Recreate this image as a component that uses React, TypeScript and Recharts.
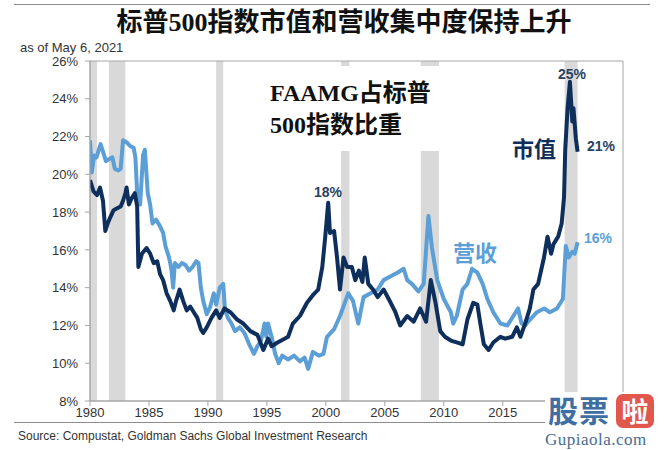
import React from 'react';
import { LineChart, Line, XAxis, YAxis, ReferenceArea } from 'recharts';

// FAAMG share of S&P 500: market cap (navy) and revenue (light blue), %
const capYears = [
  1980.0, 1980.3, 1980.6, 1980.85, 1981.1, 1981.3, 1981.5, 1981.7, 1982.0, 1982.3,
  1982.6, 1982.8, 1983.0, 1983.1, 1983.3, 1983.5, 1983.8, 1984.0, 1984.1, 1984.4,
  1984.8, 1985.1, 1985.4, 1985.7, 1985.95, 1986.2, 1986.5, 1986.8, 1987.1, 1987.3,
  1987.6, 1987.9, 1988.2, 1988.5, 1988.8, 1989.1, 1989.4, 1989.6, 1989.9, 1990.3,
  1990.7, 1991.0, 1991.4, 1991.9, 1992.5, 1993.0, 1993.6, 1994.2, 1994.7, 1995.1,
  1995.4, 1995.9, 1996.5, 1996.8, 1997.2, 1997.8, 1998.4, 1998.9, 1999.35, 1999.7,
  1999.95, 2000.2, 2000.35, 2000.7, 2000.95, 2001.2, 2001.5, 2001.8, 2002.2, 2002.5,
  2002.8, 2003.1, 2003.3, 2003.6, 2004.0, 2004.4, 2004.9, 2005.5, 2005.9, 2006.3,
  2006.9, 2007.45, 2008.0, 2008.5, 2008.9, 2009.3, 2009.7, 2010.1, 2010.6, 2011.1,
  2011.6, 2012.0, 2012.5, 2012.85, 2013.1, 2013.4, 2013.8, 2014.2, 2014.8, 2015.2,
  2015.8, 2016.2, 2016.5, 2016.9, 2017.3, 2017.6, 2018.0, 2018.5, 2018.8, 2019.1,
  2019.3, 2019.7, 2020.0, 2020.2, 2020.3, 2020.5, 2020.7, 2020.9, 2021.0, 2021.2,
  2021.35,
];
const capValues = [
  19.7, 19.1, 18.9, 19.3, 18.6, 17.0, 17.4, 17.7, 18.1, 18.2,
  18.3, 18.6, 19.0, 19.3, 18.4, 18.7, 19.0, 18.3, 15.1, 15.8,
  16.1, 15.8, 15.3, 15.4, 14.7, 14.4, 13.7, 13.3, 12.8, 13.3,
  13.9, 13.3, 12.8, 13.0, 12.7, 12.4, 11.8, 11.6, 11.9, 12.4,
  12.8, 12.4, 12.9, 12.7, 12.3, 12.1, 11.7, 11.5, 10.7, 11.3,
  10.9, 11.1, 11.3, 11.4, 12.1, 12.5, 13.2, 13.6, 13.9, 15.1,
  16.7, 18.5, 16.9, 17.0, 15.6, 13.9, 15.6, 15.1, 15.1, 14.4,
  14.9, 14.3, 15.6, 14.2, 13.9, 13.5, 13.9, 13.2, 12.7, 12.0,
  12.5, 12.2, 12.9, 12.2, 14.4, 13.2, 11.7, 11.4, 11.2, 11.1,
  11.0, 12.3, 13.2, 13.1, 12.1, 11.0, 10.7, 11.1, 11.4, 11.3,
  11.4, 11.9, 11.4, 12.1, 12.9, 13.9, 14.2, 15.6, 16.7, 15.8,
  16.3, 16.7, 17.4, 18.8, 21.3, 23.5, 24.9, 22.8, 23.5, 21.9,
  21.2,
];

const revYears = [
  1980.0, 1980.15, 1980.35, 1980.55, 1980.9, 1981.1, 1981.35, 1981.6, 1981.9, 1982.1,
  1982.4, 1982.6, 1982.8, 1983.1, 1983.4, 1983.7, 1983.85, 1984.0, 1984.25, 1984.5,
  1984.65, 1984.9, 1985.1, 1985.3, 1985.6, 1985.9, 1986.2, 1986.4, 1986.7, 1986.9,
  1987.05, 1987.2, 1987.5, 1987.8, 1988.1, 1988.4, 1988.7, 1989.0, 1989.2, 1989.4,
  1989.6, 1989.9, 1990.2, 1990.5, 1990.7, 1991.0, 1991.3, 1991.45, 1991.7, 1992.0,
  1992.3, 1992.7, 1993.1, 1993.5, 1993.9, 1994.2, 1994.5, 1994.8, 1994.95, 1995.1,
  1995.4, 1995.7, 1996.0, 1996.3, 1996.8, 1997.3, 1997.8, 1998.2, 1998.5, 1998.9,
  1999.4, 1999.8, 2000.1, 2000.7, 2001.2, 2001.9, 2002.3, 2002.75, 2003.2, 2003.8,
  2004.4, 2004.9, 2005.5, 2006.1, 2006.6, 2006.9, 2007.3, 2007.85, 2008.3, 2008.7,
  2009.0, 2009.45, 2010.0, 2010.6, 2010.8, 2011.1, 2011.6, 2012.0, 2012.4, 2012.85,
  2013.3, 2013.7, 2014.2, 2014.8, 2015.4, 2015.9, 2016.3, 2016.6, 2016.9, 2017.3,
  2017.9, 2018.5, 2019.0, 2019.6, 2020.1, 2020.35, 2020.6, 2020.9, 2021.1, 2021.35,
];
const revValues = [
  21.8, 20.1, 21.0, 20.9, 21.6, 21.2, 20.7, 20.8, 20.9, 20.3,
  20.2, 20.3, 21.8, 21.7, 21.5, 21.4, 20.9, 19.0, 18.4, 21.0,
  21.3, 19.0, 18.4, 17.4, 17.6, 17.3, 16.9, 16.2, 15.6, 15.0,
  14.0, 15.3, 15.1, 15.3, 15.2, 14.9, 15.1, 15.4, 15.3, 14.0,
  13.3, 12.6, 13.0, 13.7, 13.1, 14.0, 14.2, 12.8, 12.4, 12.1,
  11.7, 11.9, 11.6, 11.0, 10.5, 10.9, 11.2, 12.1, 11.4, 12.1,
  11.4, 10.5, 10.0, 10.4, 10.2, 10.4, 10.1, 10.3, 9.7, 10.6,
  10.4, 10.5, 11.4, 11.8, 12.5, 13.7, 13.3, 12.1, 13.5, 13.7,
  13.9, 14.4, 14.6, 14.8, 15.0, 14.4, 14.2, 13.8, 14.2, 17.8,
  16.1, 14.4, 13.4, 12.7, 12.1, 12.5, 13.9, 14.2, 15.0, 14.8,
  14.2, 13.4, 12.7, 12.1, 12.0, 12.5, 12.9, 12.1, 12.0, 12.3,
  12.7, 12.9, 12.7, 12.9, 13.4, 16.2, 15.6, 15.9, 15.8, 16.4,
];

const recessionStarts = [1980.0, 1981.6, 1990.7, 2001.3, 2008.05, 2020.25];
const recessionEnds = [1980.6, 1983.0, 1991.3, 2002.0, 2009.6, 2021.35];

const yearTicks = [1980, 1985, 1990, 1995, 2000, 2005, 2010, 2015];
const pctTicks = [8, 10, 12, 14, 16, 18, 20, 22, 24, 26];

const capData = capYears.map((year, i) => ({ year, value: capValues[i] }));
const revData = revYears.map((year, i) => ({ year, value: revValues[i] }));

const NAVY = '#0e2f5c';
const LIGHT = '#5b9fd6';
const AXIS = '#a6a6a6';
const SANS = '"Liberation Sans", Arial, sans-serif';
const SERIF_CJK = '"Liberation Serif", "Noto Sans CJK SC", serif';

const abs = (style: React.CSSProperties): React.CSSProperties => ({ position: 'absolute', whiteSpace: 'nowrap', ...style });

export default function App() {
  return (
    <div style={{ position: 'absolute', left: 0, top: 0, width: 664, height: 450, background: '#fff', overflow: 'hidden' }}>
      <div style={abs({ left: 14, top: 4, width: 636, height: 1, background: '#8c8c8c' })} />
      <div style={abs({ left: 0, width: 664, top: 8, textAlign: 'center', fontFamily: SERIF_CJK, fontWeight: 700, fontSize: 26, lineHeight: '30px', color: '#111', paddingLeft: 12 })}>
        标普500指数市值和营收集中度保持上升
      </div>
      <div style={abs({ left: 20, top: 40, fontFamily: SANS, fontSize: 13, color: '#333' })}>as of May 6, 2021</div>

      <LineChart width={664} height={450} data={capData} margin={{ top: 61, right: 41, bottom: 25, left: 30 }}>
        {recessionStarts.map((s, i) => (
          <ReferenceArea key={i} x1={s} x2={recessionEnds[i]} y1={8} y2={26} fill="#d9d9d9" fillOpacity={1} stroke="none" ifOverflow="hidden" />
        ))}
        <ReferenceArea x1={1980} x2={2025.2} y1={8} y2={26} fill="none" stroke={AXIS} strokeWidth={1} />
        <XAxis
          dataKey="year"
          type="number"
          domain={[1980, 2025.2]}
          ticks={yearTicks}
          allowDataOverflow
          height={24}
          stroke={AXIS}
          tickSize={5}
          tick={{ fill: '#333', fontSize: 13, fontFamily: SANS }}
        />
        <YAxis
          type="number"
          domain={[8, 26]}
          ticks={pctTicks}
          width={60}
          stroke={AXIS}
          tickSize={5}
          tickMargin={7}
          tickFormatter={(v: number) => `${v}%`}
          tick={{ fill: '#333', fontSize: 13, fontFamily: SANS }}
        />
        <Line data={revData} dataKey="value" type="linear" stroke={LIGHT} strokeWidth={4} dot={false} isAnimationActive={false} strokeLinejoin="round" />
        <Line data={capData} dataKey="value" type="linear" stroke={NAVY} strokeWidth={4} dot={false} isAnimationActive={false} strokeLinejoin="round" />
      </LineChart>

      <div style={abs({ left: 262, top: 66, width: 190, height: 85, background: '#fff' })} />
      <div style={abs({ left: 270, top: 77, fontFamily: SERIF_CJK, fontWeight: 700, fontSize: 24, lineHeight: '32px', color: '#111' })}>
        FAAMG占标普
        <br />
        500指数比重
      </div>

      <div style={abs({ left: 314, top: 184, fontFamily: SANS, fontWeight: 700, fontSize: 14, color: '#2a3f5f' })}>18%</div>
      <div style={abs({ left: 558, top: 66, fontFamily: SANS, fontWeight: 700, fontSize: 14, color: '#2a3f5f' })}>25%</div>
      <div style={abs({ left: 587, top: 138, fontFamily: SANS, fontWeight: 700, fontSize: 14, color: '#2a3f5f' })}>21%</div>
      <div style={abs({ left: 584, top: 230, fontFamily: SANS, fontWeight: 700, fontSize: 14, color: LIGHT })}>16%</div>
      <div style={abs({ left: 512, top: 131, fontFamily: SERIF_CJK, fontWeight: 700, fontSize: 22, color: NAVY })}>市值</div>
      <div style={abs({ left: 453, top: 235, fontFamily: SERIF_CJK, fontWeight: 700, fontSize: 22, color: LIGHT })}>营收</div>

      <div style={abs({ left: 14, top: 422, width: 536, height: 1, background: '#8c8c8c' })} />
      <div style={abs({ left: 18, top: 429, fontFamily: SANS, fontSize: 12, color: '#333' })}>
        Source: Compustat, Goldman Sachs Global Investment Research
      </div>

      <div style={abs({ left: 545, top: 392, width: 119, height: 58, background: '#fff' })} />
      <div style={abs({ left: 548, top: 390, fontFamily: '"Noto Sans CJK SC", sans-serif', fontWeight: 700, fontSize: 30, lineHeight: '38px', color: '#3f6ea3', letterSpacing: 1 })}>股票</div>
      <div style={abs({ left: 616, top: 394, width: 38, height: 34, borderRadius: 7, background: '#e2574c', color: '#fff', textAlign: 'center', fontFamily: '"Noto Sans CJK SC", sans-serif', fontWeight: 700, fontSize: 27, lineHeight: '34px' })}>啦</div>
      <div style={abs({ left: 545, top: 430, fontFamily: '"Liberation Serif", serif', fontSize: 17, color: '#4a6d92', letterSpacing: 0.5 })}>Gupiaola.com</div>
    </div>
  );
}
